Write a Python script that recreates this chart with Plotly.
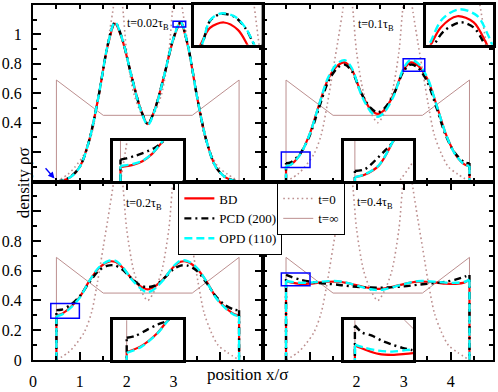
import plotly.graph_objects as go

# common x grid (position x/sigma) for the density profiles
X_GRID = [0.5, 0.6, 0.8, 1.0, 1.2, 1.4, 1.6, 1.75, 1.9, 2.1, 2.3, 2.45,
          2.6, 2.8, 3.0, 3.15, 3.3, 3.5, 3.7, 3.9, 4.1, 4.3, 4.4]

# t = 0.02 tau_B
BD_002 = [0.0, 0.004, 0.03, 0.1, 0.28, 0.58, 0.93, 1.073, 0.97, 0.72, 0.49, 0.39,
          0.49, 0.72, 0.97, 1.076, 0.93, 0.58, 0.28, 0.1, 0.03, 0.004, 0.0]
PCD_002 = [0.0, 0.005, 0.032, 0.1, 0.28, 0.58, 0.935, 1.082, 0.975, 0.72, 0.49, 0.392,
           0.49, 0.72, 0.975, 1.083, 0.935, 0.58, 0.28, 0.1, 0.032, 0.005, 0.0]
OPD_002 = [0.0, 0.004, 0.03, 0.1, 0.28, 0.58, 0.935, 1.083, 0.975, 0.72, 0.485, 0.385,
           0.485, 0.72, 0.975, 1.084, 0.935, 0.58, 0.28, 0.1, 0.03, 0.004, 0.0]

# t = 0.1 tau_B
BD_01 = [0.106, 0.115, 0.185, 0.32, 0.52, 0.7, 0.79, 0.81, 0.76, 0.6, 0.49, 0.46,
         0.49, 0.6, 0.76, 0.81, 0.79, 0.7, 0.52, 0.32, 0.185, 0.115, 0.106]
PCD_01 = [0.125, 0.13, 0.19, 0.31, 0.5, 0.68, 0.775, 0.795, 0.75, 0.6, 0.5, 0.47,
          0.5, 0.6, 0.75, 0.795, 0.775, 0.68, 0.5, 0.31, 0.19, 0.13, 0.125]
OPD_01 = [0.106, 0.114, 0.183, 0.32, 0.52, 0.71, 0.805, 0.825, 0.77, 0.59, 0.475, 0.44,
          0.475, 0.59, 0.77, 0.825, 0.805, 0.71, 0.52, 0.32, 0.183, 0.114, 0.106]

# t = 0.2 tau_B
BD_02 = [0.30, 0.308, 0.355, 0.425, 0.53, 0.615, 0.66, 0.66, 0.625, 0.55, 0.495, 0.475,
         0.495, 0.55, 0.625, 0.66, 0.66, 0.615, 0.53, 0.425, 0.355, 0.308, 0.30]
PCD_02 = [0.335, 0.338, 0.37, 0.43, 0.52, 0.6, 0.635, 0.635, 0.61, 0.55, 0.5, 0.49,
          0.5, 0.55, 0.61, 0.635, 0.635, 0.6, 0.52, 0.43, 0.37, 0.338, 0.335]
OPD_02 = [0.295, 0.303, 0.35, 0.42, 0.53, 0.62, 0.665, 0.668, 0.63, 0.545, 0.48, 0.455,
          0.48, 0.545, 0.63, 0.668, 0.665, 0.62, 0.53, 0.42, 0.35, 0.303, 0.295]

# t = 0.4 tau_B
BD_04 = [0.53, 0.522, 0.512, 0.513, 0.52, 0.526, 0.527, 0.52, 0.51, 0.495, 0.482, 0.478,
         0.482, 0.495, 0.51, 0.52, 0.527, 0.526, 0.52, 0.513, 0.512, 0.522, 0.54]
PCD_04 = [0.572, 0.56, 0.54, 0.527, 0.518, 0.512, 0.506, 0.5, 0.495, 0.49, 0.487, 0.486,
          0.487, 0.49, 0.495, 0.5, 0.506, 0.512, 0.518, 0.527, 0.54, 0.56, 0.572]
OPD_04 = [0.533, 0.526, 0.519, 0.52, 0.525, 0.53, 0.53, 0.522, 0.51, 0.492, 0.476, 0.47,
          0.476, 0.492, 0.51, 0.522, 0.53, 0.53, 0.525, 0.52, 0.519, 0.526, 0.54]

# initial and equilibrium profiles
X_T0 = [0.5, 0.75, 0.9, 1.1, 1.25, 1.38, 1.5, 1.6, 1.7, 1.8, 1.9, 2.0, 2.15, 2.3, 2.45,
        2.6, 2.75, 2.9, 3.0, 3.1, 3.2, 3.3, 3.4, 3.52, 3.65, 3.8, 3.95, 4.15, 4.4]
Y_T0 = [0.0, 0.05, 0.1, 0.19, 0.32, 0.53, 0.76, 0.95, 1.15, 1.35, 1.22, 0.88, 0.6, 0.47, 0.4,
        0.47, 0.6, 0.88, 1.22, 1.35, 1.15, 0.95, 0.76, 0.53, 0.32, 0.19, 0.1, 0.05, 0.0]
X_TINF = [0.5, 0.5, 1.5, 3.4, 4.4, 4.4]
Y_TINF = [0.0, 0.69, 0.45, 0.45, 0.69, 0.0]

# insets: (x, y) of each curve near a peak or a wall
INS_TL_TOP = {
    "BD": ([2.99, 3.015, 3.053, 3.109, 3.165, 3.203, 3.23], [1.038, 1.05, 1.067, 1.0724, 1.065, 1.05, 1.036]),
    "PCD": ([2.995, 3.021, 3.053, 3.097, 3.152, 3.197, 3.222, 3.24], [1.04, 1.05, 1.074, 1.081, 1.078, 1.066, 1.054, 1.045]),
    "OPD": ([2.995, 3.021, 3.053, 3.097, 3.152, 3.197, 3.222, 3.24], [1.04, 1.0505, 1.0745, 1.0815, 1.0785, 1.0665, 1.0545, 1.045]),
}
INS_TL_BOT = {
    "BD": ([0.5, 0.6, 0.677, 0.755, 0.832, 0.88], [0.0036, 0.0041, 0.005, 0.0068, 0.0096, 0.0115]),
    "PCD": ([0.5, 0.549, 0.625, 0.729, 0.78, 0.832, 0.88], [0.0054, 0.0057, 0.0064, 0.0076, 0.0084, 0.0096, 0.0112]),
    "OPD": ([0.5, 0.6, 0.677, 0.755, 0.832, 0.88], [0.0038, 0.0043, 0.0051, 0.0069, 0.0097, 0.0116]),
}
INS_TR_TOP = {
    "BD": ([2.99, 3.024, 3.091, 3.205, 3.318, 3.398, 3.43], [0.735, 0.75, 0.7866, 0.811, 0.798, 0.757, 0.735]),
    "PCD": ([3.02, 3.047, 3.114, 3.228, 3.318, 3.375, 3.4], [0.735, 0.75, 0.779, 0.798, 0.787, 0.761, 0.745]),
    "OPD": ([2.99, 3.024, 3.103, 3.217, 3.341, 3.42, 3.45], [0.73, 0.757, 0.805, 0.8257, 0.812, 0.768, 0.745]),
}
INS_TR_BOT = {
    "BD": ([0.5, 0.59, 0.71, 0.83, 0.9], [0.106, 0.113, 0.136, 0.196, 0.24]),
    "PCD": ([0.5, 0.59, 0.71, 0.77, 0.83, 0.9], [0.122, 0.127, 0.159, 0.177, 0.196, 0.235]),
    "OPD": ([0.5, 0.59, 0.71, 0.83, 0.9], [0.106, 0.114, 0.137, 0.197, 0.24]),
}
INS_BL = {
    "BD": ([0.5, 0.627, 0.77, 0.86, 0.95], [0.30, 0.315, 0.348, 0.38, 0.41]),
    "PCD": ([0.5, 0.57, 0.685, 0.77, 0.845, 0.95], [0.336, 0.34, 0.357, 0.369, 0.3775, 0.395]),
    "OPD": ([0.5, 0.627, 0.77, 0.86, 0.95], [0.298, 0.313, 0.347, 0.379, 0.41]),
}
INS_BR = {
    "BD": ([0.5, 0.592, 0.709, 0.827, 0.945, 1.03], [0.531, 0.522, 0.513, 0.511, 0.513, 0.515]),
    "PCD": ([0.5, 0.562, 0.65, 0.739, 0.827, 0.916, 0.99, 1.03], [0.574, 0.559, 0.552, 0.541, 0.533, 0.526, 0.522, 0.52]),
    "OPD": ([0.5, 0.592, 0.709, 0.827, 0.945, 1.03], [0.533, 0.526, 0.52, 0.518, 0.521, 0.523]),
}

FONT = "Liberation Serif, Times New Roman, serif"
STYLE = {
    "BD": dict(name="BD", color="#ff0000", width=2.2, dash="solid"),
    "PCD": dict(name="PCD (200)", color="#000000", width=2.4, dash="7px,4px,2px,4px"),
    "OPD": dict(name="OPD (110)", color="#00ffff", width=2.4, dash="8px,4px"),
}
BLUE = "#0000ff"
ROSY = "#bc8f8f"
T0_LINE = dict(color=ROSY, width=1.6, dash="1.6px,3px", shape="spline", smoothing=0.8)

fig = go.Figure()


def _curve(x, y, key, xa, ya, legend=False):
    """Profile: vertical segments at the walls, smoothed curve in between."""
    s = STYLE[key]
    xs = [x[0], x[0], None] + list(x) + [None, x[-1], x[-1]]
    ys = [0, y[0], None] + list(y) + [None, y[-1], 0]
    fig.add_trace(go.Scatter(
        x=xs, y=ys, xaxis=xa, yaxis=ya, mode="lines", name=s["name"],
        line=dict(color=s["color"], width=s["width"], dash=s["dash"],
                  shape="spline", smoothing=0.9),
        showlegend=legend, legend="legend",
    ))


def _inset_curve(x, y, key, xa, ya, wall=True):
    s = STYLE[key]
    xs = ([x[0], x[0], None] if wall else []) + list(x)
    ys = ([0, y[0], None] if wall else []) + list(y)
    fig.add_trace(go.Scatter(
        x=xs, y=ys, xaxis=xa, yaxis=ya, mode="lines", showlegend=False,
        line=dict(color=s["color"], width=s["width"], dash=s["dash"],
                  shape="spline", smoothing=0.9),
    ))


def _references(xa, ya, legend=False):
    fig.add_trace(go.Scatter(
        x=X_T0, y=Y_T0, xaxis=xa, yaxis=ya, mode="lines", name="t=0",
        line=T0_LINE, showlegend=legend, legend="legend2",
    ))
    fig.add_trace(go.Scatter(
        x=X_TINF, y=Y_TINF, xaxis=xa, yaxis=ya, mode="lines", name="t=\u221e",
        line=dict(color=ROSY, width=1), showlegend=legend, legend="legend2",
    ))


panels = [
    ("x", "y", BD_002, PCD_002, OPD_002),
    ("x2", "y2", BD_01, PCD_01, OPD_01),
    ("x3", "y3", BD_02, PCD_02, OPD_02),
    ("x4", "y4", BD_04, PCD_04, OPD_04),
]
for i, (xa, ya, bd, pcd, opd) in enumerate(panels):
    _references(xa, ya, legend=(i == 0))
    _curve(X_GRID, bd, "BD", xa, ya, legend=(i == 0))
    _curve(X_GRID, pcd, "PCD", xa, ya, legend=(i == 0))
    _curve(X_GRID, opd, "OPD", xa, ya, legend=(i == 0))

insets = [
    ("x5", "y5", INS_TL_TOP, False),
    ("x6", "y6", INS_TL_BOT, True),
    ("x7", "y7", INS_TR_TOP, False),
    ("x8", "y8", INS_TR_BOT, True),
    ("x9", "y9", INS_BL, True),
    ("x10", "y10", INS_BR, True),
]
for xa, ya, data, wall in insets:
    fig.add_trace(go.Scatter(x=X_T0, y=Y_T0, xaxis=xa, yaxis=ya, mode="lines",
                             showlegend=False, line=T0_LINE))
    fig.add_trace(go.Scatter(x=X_TINF, y=Y_TINF, xaxis=xa, yaxis=ya, mode="lines",
                             showlegend=False, line=dict(color=ROSY, width=1)))
    for key in ("BD", "PCD", "OPD"):
        _inset_curve(data[key][0], data[key][1], key, xa, ya, wall=wall)

# axes
XR, YR = [0, 4.9], [0, 1.2]
YV = [0, 0.2, 0.4, 0.6, 0.8, 1.0, 1.2]
XV = [0, 1, 2, 3, 4]
main_axis = dict(
    showgrid=False, zeroline=False, showline=True, linecolor="black", linewidth=2,
    mirror="allticks", ticks="inside", ticklen=8, tickwidth=1.5, tickcolor="black",
    tickfont=dict(size=16, family=FONT, color="black"), ticklabelstandoff=6,
)
split = 232 / 465
ysplit = 180 / 358
layout_axes = {}
for n, dom_x, dom_y, ylabels, xlabels in [
    ("", [0, split], [ysplit, 1], ["", "", "0.4", "0.6", "0.8", "1", ""], None),
    ("2", [split, 1], [ysplit, 1], None, None),
    ("3", [0, split], [0, ysplit], ["0", "0.2", "0.4", "0.6", "0.8", "", ""], ["0", "1", "2", "3", ""]),
    ("4", [split, 1], [0, ysplit], None, ["", "", "2", "3", "4"]),
]:
    ax = dict(main_axis, range=XR, domain=dom_x, anchor="y" + n, tickvals=XV,
              ticktext=xlabels or [""] * 5, showticklabels=xlabels is not None,
              minor=dict(tickmode="linear", tick0=0, dtick=0.5, ticks="inside", ticklen=4, tickcolor="black"))
    ay = dict(main_axis, range=YR, domain=dom_y, anchor="x" + n, tickvals=YV,
              ticktext=ylabels or [""] * 7, showticklabels=ylabels is not None,
              minor=dict(tickmode="linear", tick0=0, dtick=0.1, ticks="inside", ticklen=4, tickcolor="black"))
    layout_axes["xaxis" + n] = ax
    layout_axes["yaxis" + n] = ay

inset_axis = dict(showgrid=False, zeroline=False, showline=True, linecolor="black", linewidth=2.5,
                  mirror=True, ticks="", showticklabels=False)
for n, dx, dy, rx, ry in [
    ("5", [0.3505, 0.497], [0.888, 1.0], [2.99, 3.26], [1.05, 1.09]),
    ("6", [0.174, 0.325], [0.503, 0.617], [0.44, 1.0], [0, 0.01]),
    ("7", [0.854, 1.0], [0.888, 1.0], [2.99, 3.45], [0.75, 0.835]),
    ("8", [0.675, 0.826], [0.503, 0.617], [0.4, 1.01], [0.095, 0.2]),
    ("9", [0.174, 0.325], [0.0, 0.112], [0.38, 0.99], [0.28, 0.38]),
    ("10", [0.675, 0.826], [0.0, 0.112], [0.4, 1.01], [0.5, 0.585]),
]:
    layout_axes["xaxis" + n] = dict(inset_axis, domain=dx, range=rx, anchor="y" + n)
    layout_axes["yaxis" + n] = dict(inset_axis, domain=dy, range=ry, anchor="x" + n)

# blue zoom boxes
shapes = []
for xr, yr, x0, x1, y0, y1 in [
    ("x", "y", 2.99, 3.26, 1.05, 1.09),
    ("x2", "y2", 2.99, 3.45, 0.75, 0.835),
    ("x2", "y2", 0.4, 1.01, 0.095, 0.2),
    ("x3", "y3", 0.38, 0.99, 0.28, 0.38),
    ("x4", "y4", 0.4, 1.01, 0.5, 0.585),
]:
    shapes.append(dict(type="rect", xref=xr, yref=yr, x0=x0, x1=x1, y0=y0, y1=y1,
                       line=dict(color=BLUE, width=1.5)))

annotations = []
for xr, yr, x, y, label in [
    ("x", "y", 2.45, 1.07, "t=0.02\u03c4<sub>B</sub>"),
    ("x2", "y2", 2.42, 1.064, "t=0.1\u03c4<sub>B</sub>"),
    ("x3", "y3", 2.37, 1.05, "t=0.2\u03c4<sub>B</sub>"),
    ("x4", "y4", 2.4, 1.057, "t=0.4\u03c4<sub>B</sub>"),
]:
    annotations.append(dict(xref=xr, yref=yr, x=x, y=y, text=label, showarrow=False,
                            font=dict(size=12, family=FONT, color="black")))
annotations.append(dict(xref="x", yref="y", x=0.46, y=0.02, ax=0.24, ay=0.1, axref="x", ayref="y",
                        text="", showarrow=True, arrowhead=2, arrowsize=1, arrowwidth=1.3, arrowcolor=BLUE))
annotations.append(dict(xref="paper", yref="paper", x=-0.045, y=0.5, text="density \u03c1\u03c3",
                        textangle=-90, showarrow=False, font=dict(size=17, family=FONT, color="black")))
annotations.append(dict(xref="paper", yref="paper", x=0.467, y=-0.042, yanchor="middle",
                        text="position x/\u03c3", showarrow=False, font=dict(size=17, family=FONT, color="black")))

leg = dict(xanchor="left", yanchor="top", bgcolor="white", bordercolor="black", borderwidth=1,
           font=dict(size=13, family=FONT, color="black"), itemwidth=30, tracegroupgap=0)
fig.update_layout(
    width=498, height=392,
    margin=dict(l=31, r=2, t=3, b=31),
    paper_bgcolor="white", plot_bgcolor="white",
    font=dict(family=FONT, color="black"),
    legend=dict(leg, x=0.316, y=0.5),
    legend2=dict(leg, x=0.531, y=0.5),
    shapes=shapes, annotations=annotations,
    **layout_axes,
)

# page body margin would shift the figure by 8px
fig.write_html("out.html", config={"displayModeBar": False},
               post_script="document.body.style.margin='0';")
